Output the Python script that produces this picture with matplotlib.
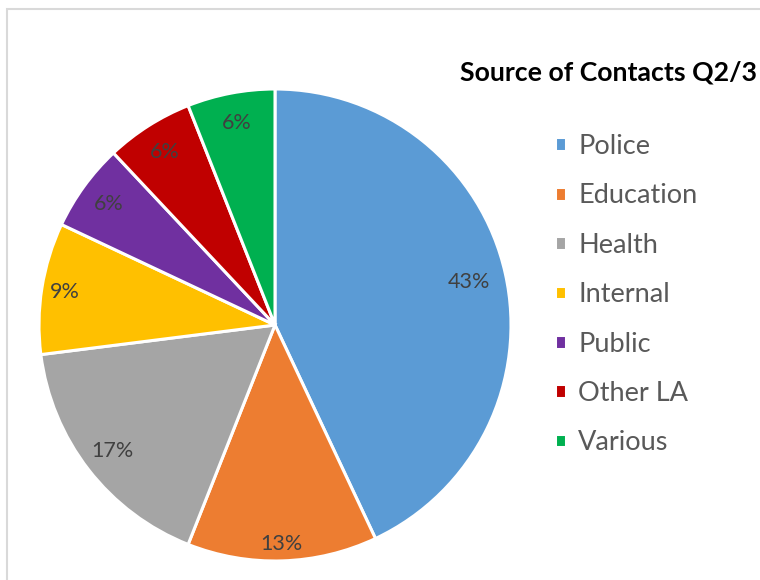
import matplotlib
matplotlib.use('Agg')
import matplotlib.pyplot as plt
from matplotlib.patches import Rectangle
import numpy as np

# data
sources = ['Police', 'Education', 'Health', 'Internal', 'Public', 'Other LA', 'Various']
shares = [43, 13, 17, 9, 6, 6, 6]
colors = ['#5B9BD5', '#ED7D31', '#A5A5A5', '#FFC000', '#7030A0', '#C00000', '#00B050']
title = 'Source of Contacts Q2/3'
# how far out each % label sits (fraction of radius), as Excel placed them
label_dist = [0.84, 0.93, 0.87, 0.90, 0.87, 0.87, 0.87]

plt.rcParams['font.family'] = ['Lato', 'DejaVu Sans']

fig = plt.figure(figsize=(7.6, 5.8), dpi=100)
fig.patch.set_facecolor('white')

# light chart-area frame (right/bottom edges run off the picture)
fig.patches.append(Rectangle((7/760, -0.1), 2.0, 1 - 9/580 + 0.1, transform=fig.transFigure,
                             fill=False, edgecolor='#D9D9D9', linewidth=1.5, zorder=0))

ax = fig.add_axes([39/760, 19/580, 472/760, 472/580])
wedges, texts, autotexts = ax.pie(shares, colors=colors, startangle=90, counterclock=False,
                                  autopct='%d%%', pctdistance=0.87, radius=1,
                                  wedgeprops=dict(edgecolor='white', linewidth=2.2),
                                  textprops=dict(color='#404040', fontsize=15.5))
for w, t, d in zip(wedges, autotexts, label_dist):
    mid = np.deg2rad((w.theta1 + w.theta2) / 2)
    t.set_position((d * np.cos(mid), d * np.sin(mid)))
ax.set_xlim(-1.0, 1.0)
ax.set_ylim(-1.0, 1.0)
ax.set_aspect('equal')

fig.text(609/760, 1 - 72/580, title, ha='center', va='center', fontsize=19.2, fontweight='bold',
         color='black')

fig.legend(wedges, sources, loc='upper left', bbox_to_anchor=(555/760, 1 - 134/580),
           frameon=False, fontsize=19.5, labelcolor='#595959',
           handlelength=0.4, handleheight=0.4, handletextpad=0.45, labelspacing=0.9,
           borderpad=0, borderaxespad=0)

fig.savefig('out.png', dpi=100, facecolor='white')
